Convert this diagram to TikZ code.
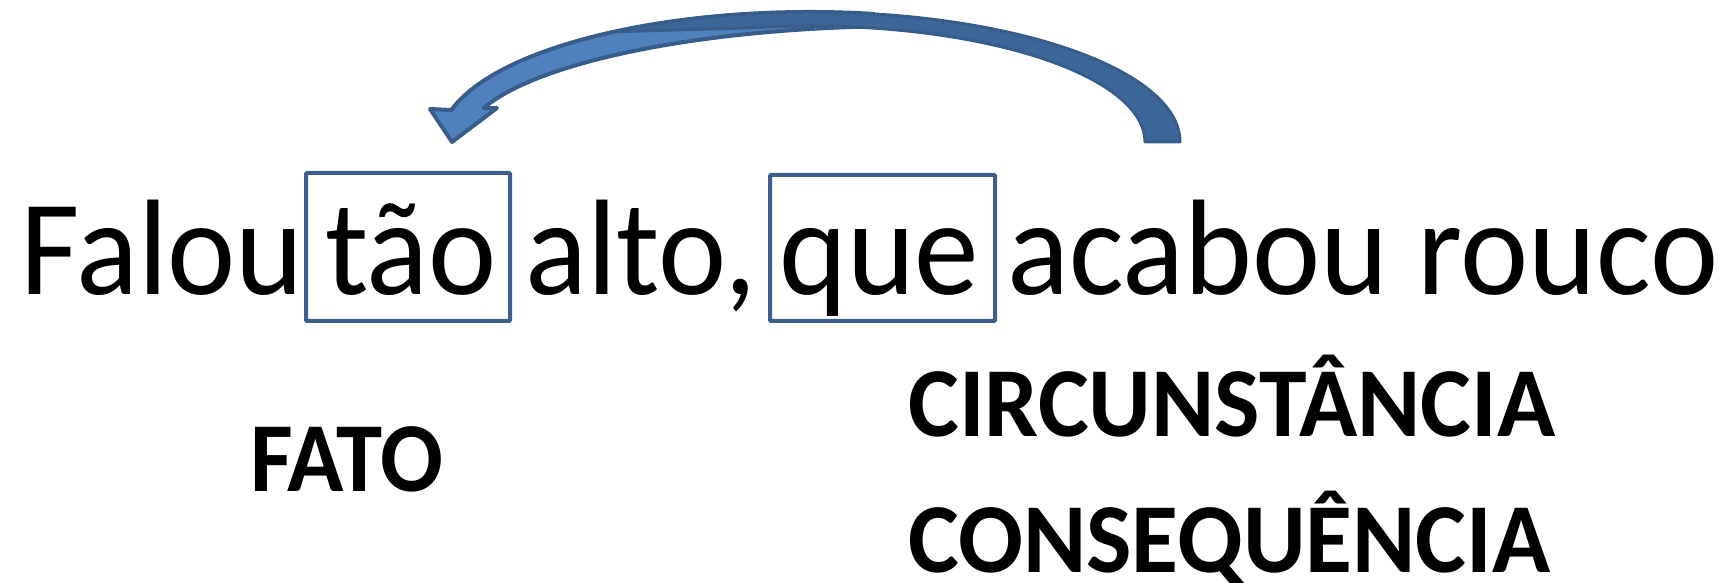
\documentclass[tikz,border=0pt]{standalone}
\usepackage{fontspec}
\setmainfont{Carlito}
\usetikzlibrary{calc}
\definecolor{outl}{HTML}{385D8A}
\definecolor{lightarm}{HTML}{4F81BD}
\definecolor{darkarm}{HTML}{3D6698}
\definecolor{boxc}{HTML}{3C5F8E}
\begin{document}
\begin{tikzpicture}[x=1pt,y=1pt,
  word/.style={inner sep=0pt,anchor=base west,xscale=0.95,font=\fontsize{136}{160}\selectfont},
  label/.style={inner sep=0pt,anchor=base west,xscale=0.97,font=\fontsize{99}{115}\selectfont\bfseries},
  wbox/.style={draw=boxc,line width=4pt,rounded corners=1pt},
  headarm/.style={fill=lightarm,draw=outl,line width=4pt,line join=round},
  tailarm/.style={fill=darkarm,draw=outl,line width=3pt,line join=round}]
\useasboundingbox (0,0) rectangle (1721,583);
% words
\node[word] (w1) at (20,288) {Falou};
\node[word] (w2) at (325,288) {tão};
\node[word] (w3) at (525,288) {alto,};
\node[word] (w4) at (779,288) {que};
\node[word] (w5) at (1007,288) {acabou rouco};
% boxes
\coordinate (b1a) at (306,262);
\coordinate (b1b) at (510,410);
\coordinate (b2a) at (770,262);
\coordinate (b2b) at (995,408);
\draw[wbox] (b1a) rectangle (b1b);
\draw[wbox] (b2a) rectangle (b2b);
% labels
\node[label,xscale=0.94/0.97] (fato) at (250,91) {FATO};
\node[label] (circ) at (908,146) {CIRCUNSTÂNCIA};
\node[label] (cons) at (908,10) {CONSEQUÊNCIA};
% curved arrow
\coordinate (oc) at (810,441);
\coordinate (hc) at (911,441);
\draw[headarm] ($(oc)+(165.75:370pt and 130pt)$)
  arc[start angle=165.75,end angle=80,x radius=370pt,y radius=130pt]
  -- ($(hc)+(94.7:447pt and 116pt)$)
  arc[start angle=94.7,end angle=163,x radius=447pt,y radius=116pt]
  -- (497,475) -- (452,441) -- (430,474) -- cycle;
\draw[tailarm] ($(oc)+(0:370pt and 130pt)$)
  arc[start angle=0,end angle=122,x radius=370pt,y radius=130pt]
  -- ($(oc)+(100:335pt and 116pt)$)
  arc[start angle=100,end angle=0,x radius=335pt,y radius=116pt]
  -- cycle;
\end{tikzpicture}
\end{document}
